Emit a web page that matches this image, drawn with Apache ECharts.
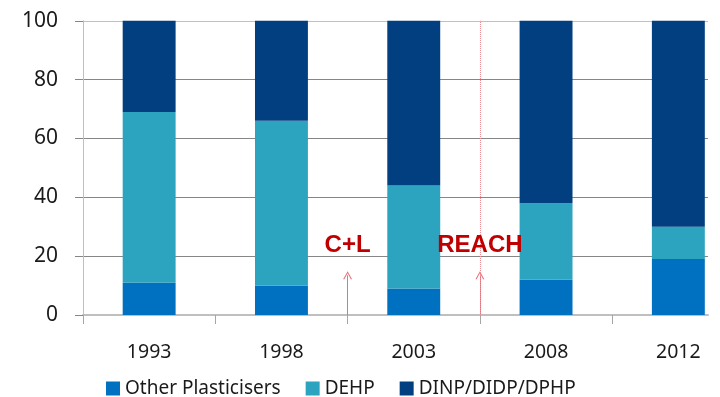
<!DOCTYPE html>
<html>
<head>
<meta charset="utf-8">
<title>Plasticiser shares</title>
<script src="https://cdn.jsdelivr.net/npm/echarts@6/dist/echarts.min.js"></script>
<style>
  html, body { margin: 0; padding: 0; background: #ffffff; }
  #chart { width: 720px; height: 397px; }
</style>
</head>
<body>
<div id="chart"></div>
<script>
// Survey years
const categories = ['1993', '1998', '2003', '2008', '2012'];

// Share of each plasticiser group (%), stacked to 100
const otherPlasticisers = [11, 10, 9, 12, 19];
const dehp = [58, 56, 35, 26, 11];
const dinpDidpDphp = [31, 34, 56, 62, 70];

// Y axis range and tick step
const yMin = 0;
const yMax = 100;
const yStep = 20;

// Regulatory milestones, placed between survey years (category index units)
const eventNames = ['C+L', 'REACH'];
const eventPositions = [1.5, 2.5];
const eventLabelValue = 23.5;
const eventArrowTip = 13.5;

const seriesNames = ['Other Plasticisers', 'DEHP', 'DINP/DIDP/DPHP'];
const seriesColors = ['#0070C0', '#2CA3BF', '#023F80'];

const font = '"Noto Sans", "Open Sans", sans-serif';
const textColor = '#1a1a1a';

// Thin open chevron used as arrow head
const chevron = 'path://M0,10 L5,0 L10,10 L8.6,10 L5,2.6 L1.4,10 Z';

const chart = echarts.init(document.getElementById('chart'), null, { renderer: 'canvas' });

const gridTop = 20.75;
const gridBottom = 82;

// Arrow from the baseline up to just under each milestone label
const arrowLines = eventPositions.map(x => [
  { coord: [x, yMin], symbol: 'none' },
  { coord: [x, eventArrowTip], symbol: chevron, symbolSize: [9, 8] }
]);

// Dotted line through the full height at REACH
const reachLine = [
  { coord: [eventPositions[1], yMin], symbol: 'none',
    lineStyle: { color: '#F08C94', width: 1, type: [1, 1] } },
  { coord: [eventPositions[1], yMax], symbol: 'none' }
];

const option = {
  animation: false,
  backgroundColor: '#ffffff',
  grid: [
    // plot area for the bars (extends past the right edge of the canvas)
    { left: 83, right: -24.5, top: gridTop, bottom: gridBottom, containLabel: false, outerBoundsMode: 'none' },
    // plot area for the horizontal gridlines and the baseline
    { left: 83, right: 12, top: gridTop, bottom: gridBottom, containLabel: false, outerBoundsMode: 'none' }
  ],
  legend: {
    data: seriesNames,
    left: 101,
    top: 374,
    icon: 'rect',
    itemWidth: 14,
    itemHeight: 14,
    itemGap: 25,
    textStyle: { fontFamily: font, fontSize: 19, color: textColor }
  },
  xAxis: [
    {
      type: 'category',
      gridIndex: 0,
      data: categories,
      boundaryGap: true,
      axisLine: { show: false },
      axisTick: { show: true, length: 9, lineStyle: { color: '#A6A6A6', width: 1 } },
      axisLabel: { fontFamily: font, fontSize: 19.5, color: textColor, margin: 27 },
      splitLine: { show: false }
    },
    {
      type: 'value',
      gridIndex: 0,
      show: false,
      min: -0.5,
      max: categories.length - 0.5,
      axisLine: { show: false },
      axisTick: { show: false },
      axisLabel: { show: false },
      splitLine: { show: false }
    },
    {
      type: 'value',
      gridIndex: 1,
      min: 0,
      max: 1,
      axisLine: { show: true, onZero: false, lineStyle: { color: '#BFBFBF', width: 2 } },
      axisTick: { show: false },
      axisLabel: { show: false },
      splitLine: { show: false }
    }
  ],
  yAxis: [
    {
      type: 'value',
      gridIndex: 0,
      min: yMin,
      max: yMax,
      interval: yStep,
      axisLine: { show: true, onZero: false, lineStyle: { color: '#BFBFBF', width: 1 } },
      axisTick: { show: true, length: 8, lineStyle: { color: '#868686' } },
      axisLabel: { fontFamily: font, fontSize: 21, color: textColor, margin: 25 },
      splitLine: { show: false }
    },
    {
      type: 'value',
      gridIndex: 1,
      min: yMin,
      max: yMax,
      interval: yStep,
      axisLine: { show: false },
      axisTick: { show: false },
      axisLabel: { show: false },
      splitLine: {
        show: true,
        lineStyle: {
          color: ['#868686', '#868686', '#868686', '#868686', '#868686', '#C0C0C0'],
          width: 1
        }
      }
    }
  ],
  series: [
    {
      name: seriesNames[0],
      type: 'bar',
      stack: 'share',
      xAxisIndex: 0,
      yAxisIndex: 0,
      barWidth: '40%',
      itemStyle: { color: seriesColors[0] },
      data: otherPlasticisers
    },
    {
      name: seriesNames[1],
      type: 'bar',
      stack: 'share',
      xAxisIndex: 0,
      yAxisIndex: 0,
      barWidth: '40%',
      itemStyle: { color: seriesColors[1] },
      data: dehp
    },
    {
      name: seriesNames[2],
      type: 'bar',
      stack: 'share',
      xAxisIndex: 0,
      yAxisIndex: 0,
      barWidth: '40%',
      itemStyle: { color: seriesColors[2] },
      data: dinpDidpDphp
    },
    // milestone labels with their arrows and the REACH marker line
    {
      name: 'milestones',
      type: 'scatter',
      xAxisIndex: 1,
      yAxisIndex: 0,
      symbol: 'circle',
      symbolSize: 1,
      silent: true,
      z: 5,
      itemStyle: { color: 'rgba(0,0,0,0)', opacity: 1 },
      label: {
        show: true,
        position: 'inside',
        formatter: p => p.value[2],
        fontFamily: '"Liberation Sans", Arial, sans-serif',
        fontWeight: 'bold',
        fontSize: 24,
        color: '#C00000',
        opacity: 1
      },
      data: eventPositions.map((x, i) => [x, eventLabelValue, eventNames[i]]),
      markLine: {
        silent: true,
        animation: false,
        label: { show: false },
        lineStyle: { color: '#EE6F78', width: 1, type: 'solid', opacity: 1 },
        data: [...arrowLines, reachLine]
      }
    }
  ]
};

chart.setOption(option);
</script>
</body>
</html>
